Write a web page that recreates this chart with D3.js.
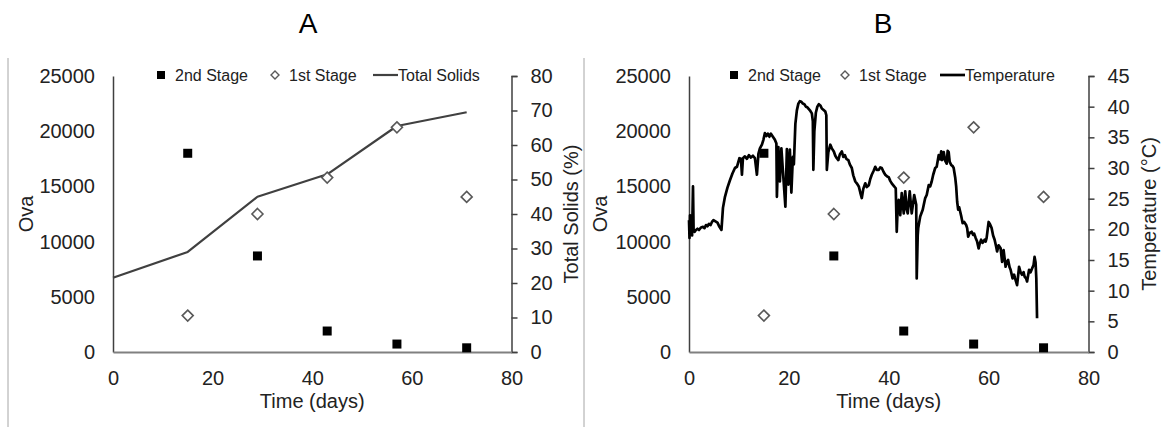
<!DOCTYPE html>
<html>
<head>
<meta charset="utf-8">
<script src="https://cdn.jsdelivr.net/npm/d3@7/dist/d3.min.js"></script>
<style>
  html, body { margin: 0; padding: 0; background: #fff; }
  svg { display: block; font-family: "Liberation Sans", Arial, sans-serif; }
</style>
</head>
<body>
<svg id="chart" width="1161" height="427"></svg>
<script>
// Sampling days for egg counts
const sampleDays = [15, 29, 43, 57, 71];
// Ova counts per developmental stage
const secondStage = [18000, 8700, 1900, 720, 380];
const firstStage = [3300, 12500, 15800, 20350, 14050];

// Total solids (%) of the pile
const solidsDays = [0, 15, 29, 43, 57, 71];
const totalSolids = [21.5, 29, 45, 51.5, 65.5, 69.5];

// Logged pile temperature: [day, °C]
const temperatureLog = [
  [0.0, 21.5], [0.1, 18.6], [0.2, 22.3], [0.35, 19.4], [0.5, 21.6], [0.62, 19.0],
  [0.8, 27.0], [0.92, 19.8], [1.1, 19.6], [1.4, 19.9], [1.7, 20.1], [2.0, 19.9],
  [2.4, 20.3], [2.8, 20.4], [3.1, 20.2], [3.4, 20.7], [3.7, 20.5], [4.0, 20.9],
  [4.3, 20.7], [4.6, 21.2], [4.9, 21.5], [5.3, 21.3], [5.7, 21.1], [6.1, 20.4],
  [6.5, 19.9], [6.8, 23.5], [7.2, 25.3], [7.7, 26.8], [8.2, 28.0], [8.7, 29.1],
  [9.2, 30.0], [9.6, 30.2], [10.1, 31.6], [10.4, 31.5], [10.6, 28.9], [10.8, 31.6],
  [11.2, 31.9], [11.6, 31.5], [12.0, 32.1], [12.4, 31.7], [12.8, 32.0], [13.2, 31.6],
  [13.6, 28.9], [13.9, 32.3], [14.2, 33.2], [14.6, 33.8], [14.9, 34.6], [15.2, 35.7],
  [15.5, 35.2], [15.8, 35.6], [16.1, 35.1], [16.4, 35.6], [16.8, 35.1], [17.2, 34.6],
  [17.5, 34.0], [17.6, 25.3], [17.9, 33.4], [18.2, 27.8], [18.5, 33.2], [18.8, 29.6],
  [19.3, 23.7], [19.6, 33.1], [19.9, 27.3], [20.2, 33.0], [20.5, 26.0], [20.8, 31.8],
  [21.0, 30.6], [21.3, 37.2], [21.6, 39.4], [21.9, 40.5], [22.2, 40.9], [22.5, 40.8],
  [22.8, 40.5], [23.1, 40.4], [23.4, 40.0], [23.7, 39.9], [24.0, 39.6], [24.3, 39.3],
  [24.6, 38.9], [24.8, 37.6], [24.9, 29.7], [25.1, 36.0], [25.4, 39.0], [25.7, 40.0],
  [26.0, 40.4], [26.3, 40.2], [26.6, 39.7], [26.9, 39.5], [27.3, 39.2], [27.5, 38.6],
  [27.6, 29.7], [27.9, 32.6], [28.3, 33.8], [28.6, 33.2], [29.0, 32.7], [29.3, 32.0],
  [29.6, 31.6], [29.9, 31.3], [30.2, 32.2], [30.6, 32.7], [30.9, 31.8], [31.2, 32.1],
  [31.5, 31.5], [31.9, 31.3], [32.2, 30.6], [32.6, 30.0], [32.9, 28.8], [33.3, 27.8],
  [33.6, 27.5], [34.0, 27.0], [34.3, 26.0], [34.6, 25.1], [34.9, 26.6], [35.3, 27.5],
  [35.6, 26.9], [36.0, 27.2], [36.3, 28.2], [36.6, 28.9], [37.0, 29.6], [37.3, 30.2],
  [37.6, 29.7], [38.0, 29.7], [38.3, 30.1], [38.6, 30.0], [39.0, 29.3], [39.3, 28.9],
  [39.7, 28.6], [40.0, 28.5], [40.3, 27.9], [40.6, 27.5], [41.0, 27.1], [41.4, 26.7],
  [41.6, 19.6], [41.8, 23.9], [42.0, 24.8], [42.3, 22.3], [42.6, 25.9], [43.0, 22.6],
  [43.3, 26.2], [43.6, 23.2], [43.8, 22.6], [44.2, 26.2], [44.6, 22.6], [45.1, 25.6],
  [45.5, 24.0], [45.6, 12.0], [45.8, 19.0], [45.9, 20.2], [46.3, 22.1], [46.8, 23.2],
  [47.3, 25.1], [47.6, 25.6], [48.0, 27.2], [48.3, 27.0], [48.6, 27.8], [48.9, 28.9],
  [49.3, 30.0], [49.6, 30.2], [50.0, 32.1], [50.3, 31.4], [50.5, 32.7], [50.7, 31.3],
  [51.0, 32.6], [51.3, 31.2], [51.6, 30.7], [51.8, 32.8], [52.0, 32.6], [52.2, 31.0],
  [52.5, 30.5], [52.8, 30.3], [53.0, 30.0], [53.3, 28.5], [53.5, 27.0], [53.7, 24.5],
  [53.9, 23.2], [54.1, 23.6], [54.3, 22.9], [54.5, 22.2], [54.8, 21.0], [55.1, 21.2],
  [55.5, 20.7], [55.7, 20.2], [55.9, 18.8], [56.2, 19.4], [56.6, 19.6], [56.9, 19.1],
  [57.1, 19.3], [57.4, 18.6], [57.7, 18.0], [58.0, 16.9], [58.2, 17.6], [58.5, 18.3],
  [58.8, 17.8], [59.2, 18.3], [59.4, 18.0], [59.6, 18.6], [60.0, 21.2], [60.3, 20.8],
  [60.6, 20.2], [60.9, 19.0], [61.2, 18.3], [61.5, 17.2], [61.7, 16.4], [62.0, 17.4],
  [62.4, 16.9], [62.7, 14.7], [63.0, 16.6], [63.4, 13.9], [63.6, 14.6], [63.9, 15.0],
  [64.2, 13.8], [64.4, 13.4], [64.8, 12.0], [65.1, 12.6], [65.3, 12.0], [65.7, 10.9],
  [66.1, 13.9], [66.4, 13.0], [66.7, 12.6], [67.0, 13.0], [67.2, 12.3], [67.5, 12.0],
  [67.7, 11.5], [68.1, 13.4], [68.4, 13.0], [68.7, 13.6], [69.0, 14.2], [69.2, 15.5],
  [69.4, 14.6], [69.55, 12.0], [69.7, 5.5]
];

// Axis tick values
const dayTicks = [0, 20, 40, 60, 80];
const ovaTicks = [0, 5000, 10000, 15000, 20000, 25000];
const solidsTicks = [0, 10, 20, 30, 40, 50, 60, 70, 80];
const tempTicks = [0, 5, 10, 15, 20, 25, 30, 35, 40, 45];

const svg = d3.select("#chart");
const TEXT = "#222";
const AXIS = "#404040";
const FONT = "Liberation Sans, Arial, sans-serif";

// Square and diamond symbol paths
const squarePath = s => `M${-s / 2},${-s / 2}h${s}v${s}h${-s}Z`;
const diamondPath = s => `M0,${-s / 2}L${s / 2},0L0,${s / 2}L${-s / 2},0Z`;

function drawPanel(cfg) {
  const g = svg.append("g");
  const x = d3.scaleLinear().domain([0, 80]).range([cfg.left, cfg.right]);
  const yL = d3.scaleLinear().domain([0, 25000]).range([352, 76]);
  const yR = d3.scaleLinear().domain(cfg.rightDomain).range([352, 76]);

  // panel frame line on the left
  g.append("line")
    .attr("x1", cfg.frameX).attr("x2", cfg.frameX)
    .attr("y1", 58).attr("y2", 427)
    .attr("stroke", "#a6a6a6").attr("stroke-width", 1);

  // panel letter
  g.append("text")
    .attr("x", cfg.titleX).attr("y", 33)
    .attr("text-anchor", "middle")
    .attr("font-size", 28).attr("fill", "#000")
    .text(cfg.title);

  // left axis (ova)
  const axL = g.append("g")
    .attr("transform", `translate(${cfg.left},0)`)
    .call(d3.axisLeft(yL).tickValues(ovaTicks).tickSize(0).tickPadding(18).tickFormat(d3.format("d")));
  axL.select(".domain").attr("stroke", AXIS).attr("stroke-width", 1.5);
  axL.selectAll("text").attr("font-size", 20).attr("fill", TEXT).attr("font-family", FONT);

  // right axis
  const axR = g.append("g")
    .attr("transform", `translate(${cfg.right},0)`)
    .call(d3.axisRight(yR).tickValues(cfg.rightTicks).tickSize(6).tickSizeOuter(6).tickPadding(13).tickFormat(d3.format("d")));
  axR.select(".domain").attr("stroke", AXIS).attr("stroke-width", 1.5);
  axR.selectAll(".tick line").attr("stroke", AXIS).attr("stroke-width", 1.5);
  axR.selectAll("text").attr("font-size", 20).attr("fill", TEXT).attr("font-family", FONT);

  // bottom axis
  const axB = g.append("g")
    .attr("transform", `translate(0,352)`)
    .call(d3.axisBottom(x).tickValues(dayTicks).tickSize(0).tickPadding(19));
  axB.select(".domain").attr("stroke", "#808080").attr("stroke-width", 2);
  axB.selectAll("text").attr("font-size", 20).attr("fill", TEXT).attr("font-family", FONT);

  // axis titles
  g.append("text")
    .attr("x", (cfg.left + cfg.right) / 2).attr("y", 408)
    .attr("text-anchor", "middle").attr("font-size", 20).attr("fill", TEXT)
    .text("Time (days)");
  g.append("text")
    .attr("transform", `translate(${cfg.ovaX},214) rotate(-90)`)
    .attr("text-anchor", "middle").attr("font-size", 20).attr("fill", TEXT)
    .text("Ova");
  g.append("text")
    .attr("transform", `translate(${cfg.rightTitleX},214) rotate(-90)`)
    .attr("text-anchor", "middle").attr("font-size", 20).attr("fill", TEXT)
    .text(cfg.rightTitle);

  // line series on the right axis
  const line = d3.line().x(d => x(d[0])).y(d => yR(d[1]));
  g.append("path")
    .datum(cfg.lineData)
    .attr("d", line)
    .attr("fill", "none")
    .attr("stroke", cfg.lineColor)
    .attr("stroke-width", cfg.lineWidth)
    .attr("stroke-linejoin", "round");

  // 1st stage: hollow diamonds
  g.selectAll(".first").data(sampleDays.map((d, i) => [d, firstStage[i]]))
    .enter().append("path")
    .attr("transform", d => `translate(${x(d[0])},${yL(d[1])})`)
    .attr("d", diamondPath(11))
    .attr("fill", "#fff").attr("stroke", "#595959").attr("stroke-width", 1.6);

  // 2nd stage: filled squares
  g.selectAll(".second").data(sampleDays.map((d, i) => [d, secondStage[i]]))
    .enter().append("path")
    .attr("transform", d => `translate(${x(d[0])},${yL(d[1])})`)
    .attr("d", squarePath(9))
    .attr("fill", "#000");

  // legend
  const lg = g.append("g").attr("font-size", 16).attr("fill", TEXT);
  const ly = 75;
  lg.append("path").attr("transform", `translate(${cfg.legend[0]},${ly})`)
    .attr("d", squarePath(8)).attr("fill", "#000");
  lg.append("text").attr("x", cfg.legend[0] + 14).attr("y", ly + 6).text("2nd Stage");
  lg.append("path").attr("transform", `translate(${cfg.legend[1]},${ly})`)
    .attr("d", diamondPath(8)).attr("fill", "#fff").attr("stroke", "#595959").attr("stroke-width", 1.4);
  lg.append("text").attr("x", cfg.legend[1] + 14).attr("y", ly + 6).text("1st Stage");
  lg.append("line")
    .attr("x1", cfg.legend[2]).attr("x2", cfg.legend[2] + 25)
    .attr("y1", ly).attr("y2", ly)
    .attr("stroke", cfg.lineColor).attr("stroke-width", cfg.legendWidth);
  lg.append("text").attr("x", cfg.legend[2] + 25).attr("y", ly + 6).text(cfg.lineLabel);
}

drawPanel({
  title: "A", titleX: 308, frameX: 8,
  left: 113, right: 511.5,
  rightDomain: [0, 80], rightTicks: solidsTicks,
  rightTitle: "Total Solids (%)", rightTitleX: 578, ovaX: 33,
  lineData: solidsDays.map((d, i) => [d, totalSolids[i]]),
  lineColor: "#404040", lineWidth: 2.2, legendWidth: 2.2, lineLabel: "Total Solids",
  legend: [161, 275, 373]
});

drawPanel({
  title: "B", titleX: 883, frameX: 584,
  left: 689, right: 1088.5,
  rightDomain: [0, 45], rightTicks: tempTicks,
  rightTitle: "Temperature (°C)", rightTitleX: 1156, ovaX: 607,
  lineData: temperatureLog,
  lineColor: "#000", lineWidth: 2.7, legendWidth: 2.7, lineLabel: "Temperature",
  legend: [734, 845, 940]
});
</script>
</body>
</html>
